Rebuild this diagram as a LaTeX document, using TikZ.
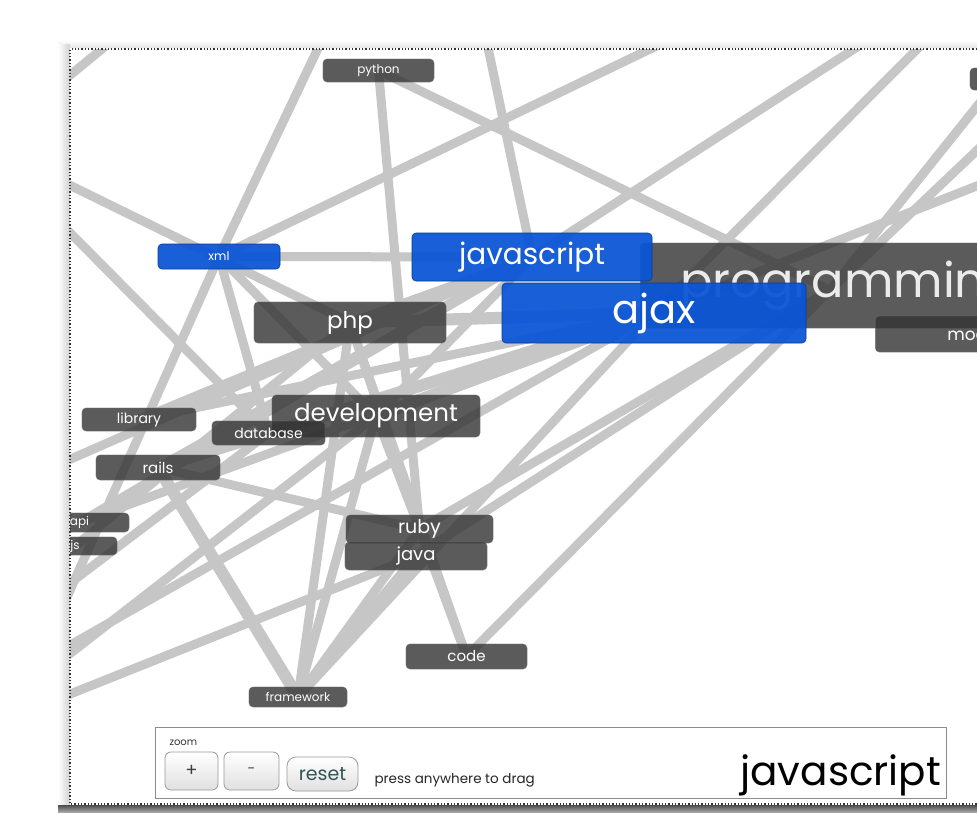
\documentclass[tikz,border=0pt]{standalone}
\usepackage{fontspec}
\setmainfont{Poppins}
\pgfdeclarelayer{bg}
\pgfsetlayers{bg,main}

\definecolor{edgegray}{HTML}{C6C6C6}
\definecolor{tagdark}{HTML}{333333}
\definecolor{tagblue}{HTML}{0A55D6}
\definecolor{resetcol}{HTML}{2F5656}

\newcommand{\fs}[1]{\fontsize{#1}{#1}\selectfont}

\begin{document}
\begin{tikzpicture}[x=1pt,y=-1pt,
  link/.style={draw=edgegray, line width=9pt},
  heavylink/.style={draw=edgegray, line width=12pt},
  tag/.style={rounded corners=4pt, inner sep=0pt, text=white, text opacity=1},
  darktag/.style={tag, fill=tagdark, fill opacity=0.8, draw=black!60, draw opacity=0.6, line width=0.6pt},
  bluetag/.style={tag, fill=tagblue, fill opacity=0.94, draw=tagblue!70!black, line width=0.6pt},
  btn/.style={draw=black!40, rounded corners=6pt, top color=white, bottom color=black!12, inner sep=0pt, line width=0.8pt, text=black!75}
]
\useasboundingbox (0,0) rectangle (977,812);

% ---------- tags, kept inside the viewport ----------
\begin{scope}
\clip (70,49) rectangle (977,804);
\node[darktag, minimum width=111pt, minimum height=23pt, font=\fs{12}] (py) at (378.5,70.5) {python};
\node[darktag, minimum width=90pt, minimum height=22pt] (tr) at (1015,79) {};
\node[darktag, anchor=west, minimum height=85pt, inner xsep=40pt, text=white!92!black, font=\fs{48}] (prog) at (640,285.5) {programming};
\node[darktag, anchor=west, minimum height=36pt, inner xsep=72pt, font=\fs{17}] (mo) at (875,334) {mootools};
\node[darktag, minimum width=192pt, minimum height=41pt, font=\fs{23}] (php) at (350,322.5) {php};
\node[darktag, minimum width=208pt, minimum height=42pt, font=\fs{24.5}] (dev) at (376,416) {development};
\node[darktag, minimum width=114pt, minimum height=23pt, font=\fs{14}] (lib) at (139,419.5) {library};
\node[darktag, minimum width=113pt, minimum height=24pt, font=\fs{14}] (db) at (268.5,433) {database};
\node[darktag, minimum width=124pt, minimum height=25pt, font=\fs{15}] (rails) at (158,467.5) {rails};
\node[darktag, minimum width=99pt, minimum height=19pt, font=\fs{12}] (api) at (79.5,522.5) {api};
\node[darktag, minimum width=84pt, minimum height=18pt, font=\fs{12}] (jsx) at (75,546) {js};
\node[darktag, minimum width=147pt, minimum height=28pt, font=\fs{19}] (ruby) at (419.5,529) {ruby};
\node[darktag, minimum width=142pt, minimum height=28pt, font=\fs{18}] (java) at (416,556) {java};
\node[darktag, minimum width=121pt, minimum height=25pt, font=\fs{15}] (code) at (466.5,656.5) {code};
\node[darktag, minimum width=98pt, minimum height=20pt, font=\fs{12}] (fw) at (298,697) {framework};
\node[bluetag, minimum width=122pt, minimum height=25pt, font=\fs{12}] (xml) at (219,256.5) {xml};
\node[bluetag, minimum width=240pt, minimum height=48pt, font=\fs{29.5}] (js) at (532,257) {javascript};
\node[bluetag, minimum width=304pt, minimum height=60pt, font=\fs{40}] (ajax) at (654,313) {ajax};
\end{scope}

% ---------- loose ends of links leaving the view ----------
\coordinate (proghub) at (830,290);
\coordinate (tA) at (341,0);
\coordinate (tB) at (478,0);
\coordinate (tC) at (752,0);
\coordinate (tD) at (930,0);
\coordinate (tE) at (966,0);
\coordinate (kA) at (40,100);
\coordinate (kB) at (125,30);
\coordinate (lA) at (0,151);
\coordinate (lB) at (0,162);
\coordinate (lD) at (30,680);
\coordinate (lE) at (0,722);
\coordinate (lF) at (0,708);
\coordinate (lG) at (0,685);
\coordinate (lH) at (0,636);
\coordinate (lI) at (0,490);
\coordinate (rA) at (1030,40);
\coordinate (rB) at (1030,100);
\coordinate (rC) at (1030,165);

% ---------- page, frame and links ----------
\begin{pgfonlayer}{bg}
  \fill[white] (0,0) rectangle (977,812);
  \shade[top color=white, bottom color=black!10] (58,40) rectangle (977,48);
  \shade[left color=white, right color=black!18] (58,44) rectangle (70,806);
  \shade[top color=black!70, bottom color=black!35] (58,805) rectangle (977,812);
  \fill[white] (70,48) rectangle (977,805);
  \begin{scope}
    \clip (70,49) rectangle (977,804);
    \draw[link] (xml.center) -- (js.center);
    \draw[link] (py.center) -- (ruby.center);
    \draw[link] (py.center) -- (proghub);
    \draw[heavylink] (php.center) -- (ajax.center);
    \draw[link] (php.center) -- (js.center);
    \draw[link] (dev.center) -- (js.center);
    \draw[heavylink] (dev.center) -- (ajax.center);
    \draw[link] (lib.center) -- (js.center);
    \draw[link] (lib.center) -- (ajax.center);
    \draw[heavylink] (rails.center) -- (ajax.center);
    \draw[link] (rails.center) -- (js.center);
    \draw[link] (db.center) -- (ajax.center);
    \draw[link] (api.center) -- (ajax.center);
    \draw[link] (api.center) -- (js.center);
    \draw[link] (jsx.center) -- (php.center);
    \draw[heavylink] (rails.center) -- (fw.center);
    \draw[link] (rails.center) -- (ruby.center);
    \draw[link] (fw.center) -- (php.center);
    \draw[link] (fw.center) -- (ruby.center);
    \draw[link] (fw.center) -- (java.center);
    \draw[link] (fw.center) -- (dev.center);
    \draw[link] (fw.center) -- (ajax.center);
    \draw[link] (code.center) -- (php.center);
    \draw[link] (code.center) -- (ruby.center);
    \draw[link] (code.center) -- (proghub);
    \draw[link] (ruby.center) -- (proghub);
    \draw[link] (java.center) -- (proghub);
    \draw[link] (dev.center) -- (ruby.center);
    \draw[link] (php.center) -- (ruby.center);
    \draw[link] (xml.center) -- (db.center);
    \draw[link] (xml.center) -- (lD);
    \draw[link] (xml.center) -- (dev.center);
    \draw[link] (xml.center) -- (tA);
    \draw[link] (xml.center) -- (tC);
    \draw[link] (js.center) -- (tB);
    \draw[link] (js.center) -- (tD);
    \draw[link] (ajax.center) -- (tE);
    \draw[link] (kA) -- (kB);
    \draw[link] (lA) -- (php.center);
    \draw[link] (lB) -- (db.center);
    \draw[link] (rA) -- (proghub);
    \draw[link] (rB) -- (proghub);
    \draw[link] (rC) -- (ajax.center);
    \draw[link] (lE) -- (java.center);
    \draw[link] (lF) -- (dev.center);
    \draw[link] (lG) -- (ajax.center);
    \draw[link] (lH) -- (db.center);
    \draw[link] (lI) -- (js.center);
  \end{scope}
  \draw[black!80, line width=1.3pt, dotted] (977,49) -- (70,49) -- (70,804) -- (977,804);
\end{pgfonlayer}

% ---------- control panel ----------
\node[draw=black!45, line width=0.8pt, fill=white, minimum width=791pt, minimum height=71pt, inner sep=0pt] (panel) at (550.5,762.5) {};
\node[anchor=base west, font=\fs{10}, text=black!80] (zoomlbl) at (166,745) {zoom};
\node[btn, minimum width=53pt, minimum height=38pt, font=\fs{18}] (plus) at (191.5,771) {+};
\node[btn, minimum width=55pt, minimum height=38pt, font=\fs{14}] (minus) at (251.5,771) {-};
\node[btn, rounded corners=9pt, minimum width=71pt, minimum height=34pt, font=\fs{19}, text=resetcol] (reset) at (322.5,774) {reset};
\node[anchor=base west, font=\fs{13.5}, text=black!85] (drag) at (371,783) {press anywhere to drag};
\node[anchor=base west, font=\fs{40.5}, text=black] (title) at (737,785) {javascript};
\end{tikzpicture}
\end{document}
